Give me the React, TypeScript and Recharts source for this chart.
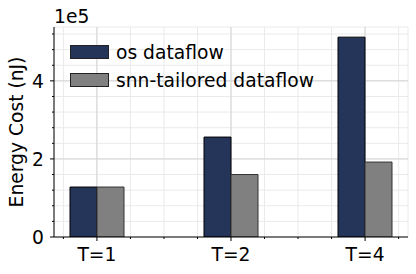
import React from 'react';
import { BarChart, Bar, XAxis, YAxis, CartesianGrid, Legend, Label } from 'recharts';

const categories = ['T=1', 'T=2', 'T=4'];
const osDataflow = [128000, 256000, 512000];
const snnTailored = [128000, 160000, 192000];

const xMinorTicks = [-0.25, 0, 0.25, 0.5, 0.75, 1, 1.25, 1.5, 1.75, 2, 2.25];
const xMajorTicks = [0, 1, 2];
const yTicks = [0, 40000, 80000, 120000, 160000, 200000, 240000, 280000, 320000, 360000, 400000, 440000, 480000, 520000];
const yMajorTicks = [200000, 400000];

const data = categories.map((t, i) => ({ t, pos: i, os: osDataflow[i], snn: snnTailored[i] }));

const FONT = 'DejaVu Sans';
const FS = 18.7;

const isMajor = (v: number, step: number) => Math.abs(v / step - Math.round(v / step)) < 1e-6;

const XTick = (props: any) => {
  const { x, y, payload } = props;
  const v = payload.value as number;
  const major = isMajor(v, 1);
  return (
    <g>
      <line x1={x} x2={x} y1={y} y2={y + (major ? 4 : 2)} stroke="#000" strokeWidth={1} />
      {major && (
        <text x={x} y={y + 24} textAnchor="middle" fontSize={FS} fontFamily={FONT} fill="#000">
          {categories[Math.round(v)]}
        </text>
      )}
    </g>
  );
};

const YTick = (props: any) => {
  const { x, y, payload } = props;
  const v = payload.value as number;
  const major = isMajor(v, 200000);
  return (
    <g>
      <line x1={x - (major ? 4 : 2)} x2={x} y1={y} y2={y} stroke="#000" strokeWidth={1} />
      {major && (
        <text x={x - 10} y={y + 6.8} textAnchor="end" fontSize={FS} fontFamily={FONT} fill="#000">
          {v / 100000}
        </text>
      )}
    </g>
  );
};

const renderLegend = (props: any) => {
  const { payload } = props;
  return (
    <div style={{ fontFamily: FONT, fontSize: FS, color: '#000' }}>
      {payload.map((entry: any) => (
        <div key={entry.value} style={{ display: 'flex', alignItems: 'center', height: 28, whiteSpace: 'nowrap' }}>
          <span
            style={{
              display: 'inline-block',
              width: 37,
              height: 12,
              background: entry.color,
              border: '1px solid #222',
              marginRight: 7,
            }}
          />
          <span>{entry.value}</span>
        </div>
      ))}
    </div>
  );
};

export default function App() {
  return (
    <div style={{ position: 'absolute', left: 0, top: 0, width: 416, height: 274, background: '#fff' }}>
      <BarChart
        width={416}
        height={274}
        data={data}
        margin={{ top: 27, right: 8, bottom: 0, left: 0 }}
        barGap={0}
        style={{ fontFamily: FONT }}
      >
        <CartesianGrid xAxisId="num" stroke="#eaeaea" strokeWidth={1} />
        <CartesianGrid
          xAxisId="num"
          stroke="#d4d4d4"
          strokeWidth={1}
          verticalValues={xMajorTicks}
          horizontalValues={yMajorTicks}
        />
        <XAxis
          xAxisId="num"
          dataKey="pos"
          type="number"
          domain={[-0.32, 2.32]}
          allowDataOverflow
          ticks={xMinorTicks}
          interval={0}
          tickSize={0}
          tickMargin={0}
          tickLine={false}
          tick={<XTick />}
          axisLine={{ stroke: '#000', strokeWidth: 1 }}
          height={37}
        />
        <XAxis xAxisId="cat" dataKey="t" hide height={0} padding={{ left: -24, right: -24 }} />
        <YAxis
          type="number"
          domain={[0, 538000]}
          allowDataOverflow
          ticks={yTicks}
          interval={0}
          width={54}
          tickSize={0}
          tickMargin={0}
          tickLine={false}
          tick={<YTick />}
          axisLine={{ stroke: '#000', strokeWidth: 1 }}
        >
          <Label
            content={(p: any) => {
              const vb = p.viewBox;
              const cy = vb.y + vb.height / 2;
              return (
                <text
                  x={23}
                  y={cy}
                  transform={`rotate(-90, 23, ${cy})`}
                  textAnchor="middle"
                  fontSize={FS}
                  fontFamily={FONT}
                  fill="#000"
                >
                  Energy Cost (nJ)
                </text>
              );
            }}
          />
          <Label
            content={(p: any) => {
              const vb = p.viewBox;
              return (
                <text x={vb.x + vb.width} y={vb.y - 4} textAnchor="start" fontSize={FS} fontFamily={FONT} fill="#000">
                  1e5
                </text>
              );
            }}
          />
        </YAxis>
        <Legend
          layout="vertical"
          align="center"
          verticalAlign="middle"
          content={renderLegend}
          wrapperStyle={{ top: 38, left: 70, width: 'auto' }}
        />
        <Bar
          xAxisId="cat"
          dataKey="os"
          name="os dataflow"
          fill="#25355a"
          stroke="#000"
          strokeWidth={1}
          barSize={27}
          isAnimationActive={false}
        />
        <Bar
          xAxisId="cat"
          dataKey="snn"
          name="snn-tailored dataflow"
          fill="#808080"
          stroke="#333"
          strokeWidth={1}
          barSize={27}
          isAnimationActive={false}
        />
      </BarChart>
    </div>
  );
}
